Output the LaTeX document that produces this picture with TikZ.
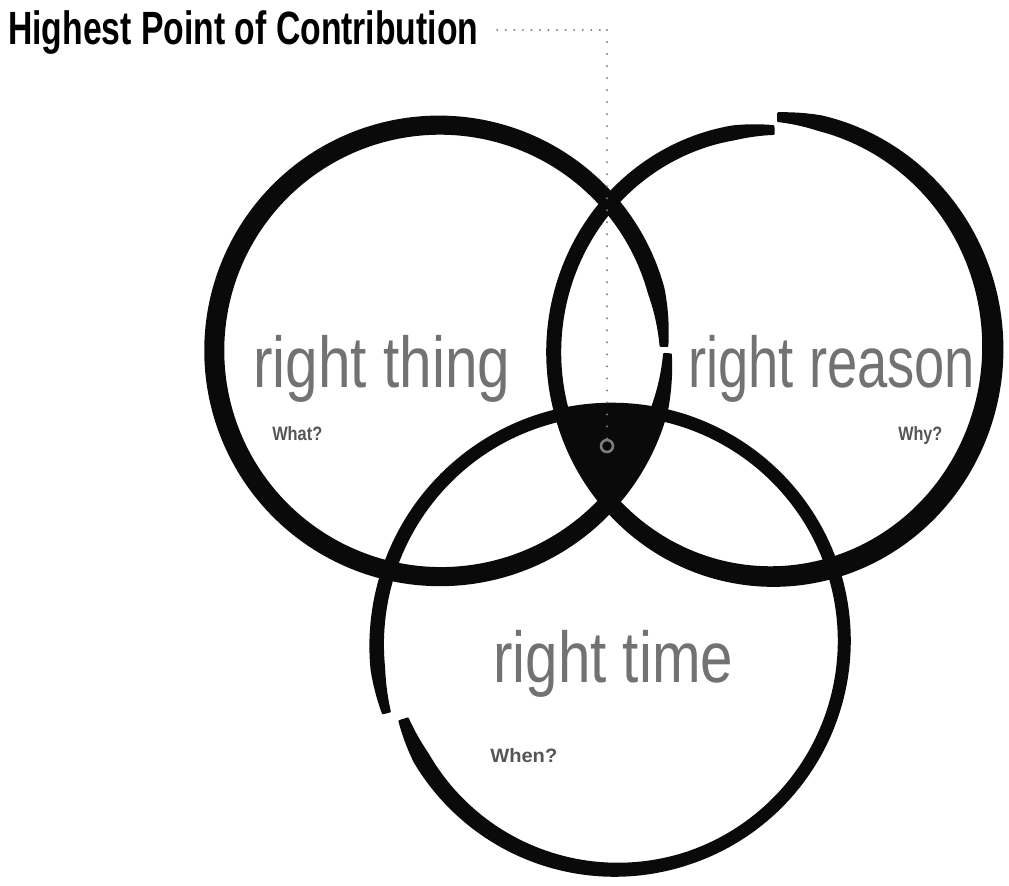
\documentclass[tikz,border=0pt]{standalone}
\usepackage{fontspec}
\setmainfont{Liberation Sans}
\usepackage{graphicx}
\newlength\px
\setlength\px{0.75pt}
\definecolor{ink}{HTML}{0A0A0A}
\definecolor{biggray}{HTML}{727272}
\definecolor{smallgray}{HTML}{555555}
\definecolor{dotgray}{HTML}{7E7E7E}
\newcommand\ensoring[5]{%
  \filldraw[ink,line width=1.5pt,line join=round] plot[variable=\q,domain=0:1,samples=360,smooth]
    ({#1+(#3+#5rad(\q)+0.5*#5wid(\q))*cos(#5ang(\q))},
     {#2-(#4+#5rad(\q)+0.5*#5wid(\q))*sin(#5ang(\q))})
    -- plot[variable=\q,domain=1:0,samples=360,smooth]
    ({#1+(#3+#5rad(\q)-0.5*#5wid(\q))*cos(#5ang(\q))},
     {#2-(#4+#5rad(\q)-0.5*#5wid(\q))*sin(#5ang(\q))})
    -- cycle;}
\begin{document}
\begin{tikzpicture}[x=0.75pt,y=-0.75pt,
  declare function={
    lfang(\q)=1+358*\q;
    lfrad(\q)=-1+3.5*\q;
    lfwid(\q)=(15+3*sin(180*\q))*(0.45+0.55*min(1,\q/0.04,(1-\q)/0.04));
    rtang(\q)=88-359*\q;
    rtrad(\q)=5-13*\q;
    rtwid(\q)=(13+7*max(0,sin(257*\q)))*(0.6+0.4*min(1,\q/0.03,(1-\q)/0.03));
    btang(\q)=200+357*\q;
    btrad(\q)=-6+14*\q;
    btwid(\q)=(11+5*max(0,1-\q/0.25)+2*max(0,(\q-0.8)/0.2))*(0.55+0.45*min(1,\q/0.03,(1-\q)/0.03));
  },
  bigtxt/.style={inner sep=0pt,anchor=base west,text=biggray,font=\fontsize{54pt}{60pt}\selectfont},
  smalltxt/.style={inner sep=0pt,anchor=base west,text=smallgray,font=\bfseries\fontsize{14.5pt}{16pt}\selectfont},
  hdots/.style={draw=dotgray,line width=1.8pt,line cap=round,dash pattern=on 0.01pt off 6.4pt},
  vdots/.style={draw=dotgray,line width=1.8pt,line cap=round,dash pattern=on 0.01pt off 9pt},
]
\useasboundingbox (0,0) rectangle (1009,885);
% triple overlap
\begin{scope}
  \clip (440,350) circle[radius=225];
  \clip (770,350) ellipse[x radius=218, y radius=226];
  \clip (614,643) circle[radius=232];
  \fill[ink] (0,0) rectangle (1009,885);
\end{scope}
% brush rings
\ensoring{440}{350}{225}{225}{lf}
\ensoring{770}{350}{221}{228}{rt}
\ensoring{614}{643}{230}{230}{bt}
% texts
\node[inner sep=0pt,anchor=base west,font=\bfseries\fontsize{35pt}{40pt}\selectfont] (title) at (8,44) {\resizebox{470\px}{\height}{Highest Point of Contribution}};
\node[bigtxt] (thing) at (253,387) {\resizebox{257\px}{\height}{right thing}};
\node[bigtxt] (reason) at (688,387) {\resizebox{287\px}{\height}{right reason}};
\node[bigtxt] (time) at (493,682) {\resizebox{240\px}{\height}{right time}};
\node[smalltxt] (what) at (272,440) {\resizebox{50\px}{\height}{What?}};
\node[smalltxt] (why) at (898,440) {\resizebox{44\px}{\height}{Why?}};
\node[smalltxt] (when) at (490,762) {\resizebox{67\px}{\height}{When?}};
% highest point marker
\node[draw=dotgray,line width=1.9pt,circle,minimum size=9pt,inner sep=0pt] (core) at (607,446) {};
\coordinate (bend) at (607,30);
\draw[hdots] ([xshift=14pt]title.east |- bend) -- (bend);
\draw[vdots] (bend) -- (core.north);
\end{tikzpicture}
\end{document}
